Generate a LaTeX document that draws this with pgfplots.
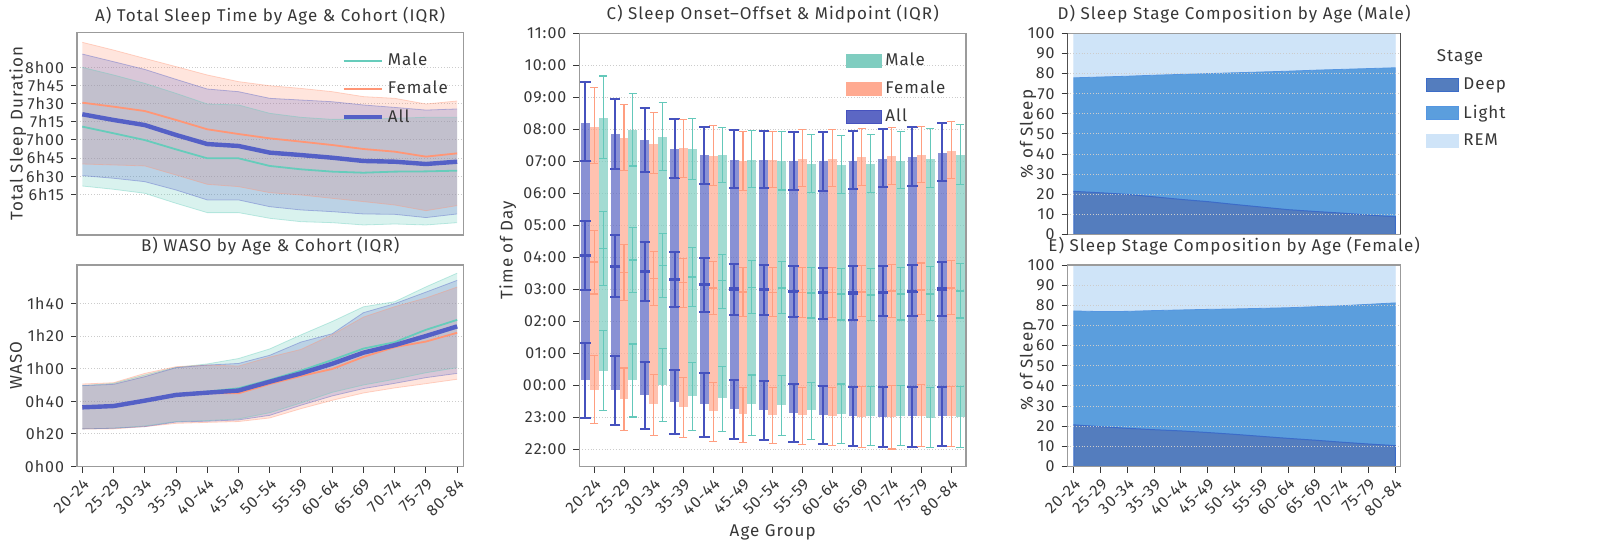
\documentclass[border=0pt]{standalone}
\usepackage{fontspec}
\setmainfont{Fira Sans}[LetterSpace=6]
\usepackage{pgfplots}
\pgfplotsset{compat=1.18}
\usepackage{pgfplotstable}
\usepgfplotslibrary{fillbetween}

\definecolor{malec}{RGB}{102,204,187}
\definecolor{femc}{RGB}{255,150,118}
\definecolor{allc}{RGB}{84,96,198}
\definecolor{maleb}{RGB}{127,205,192}
\definecolor{femb}{RGB}{255,170,145}
\definecolor{allb}{RGB}{92,103,196}
\definecolor{allerr}{RGB}{70,82,190}
\definecolor{femerr}{RGB}{255,158,128}
\definecolor{maleerr}{RGB}{100,200,186}
\definecolor{deepc}{RGB}{84,125,190}
\definecolor{deepe}{RGB}{60,108,200}
\definecolor{lightc}{RGB}{91,158,221}
\definecolor{lighte}{RGB}{85,150,225}
\definecolor{remc}{RGB}{207,228,248}
\definecolor{txtc}{RGB}{55,55,55}
\definecolor{framec}{RGB}{155,155,155}
\definecolor{spinec}{RGB}{80,80,80}

\newcommand{\fs}{\fontsize{8.5}{10.2}\selectfont}
\newcommand{\fst}{\fontsize{8}{9.6}\selectfont}

% A) total sleep time, minutes: lo / median / hi per cohort
\pgfplotstableread{
x  mlo    mmed   mhi    flo    fmed   fhi    alo    amed   ahi
0  381.9  431.0  480.0  400.1  450.8  500.7  390.5  441.2  491.0
1  379.2  425.5  473.7  399.3  447.5  494.3  388.3  436.5  484.7
2  375.9  419.9  466.8  398.5  443.9  487.4  385.5  432.3  478.3
3  367.6  412.2  458.5  391.0  436.5  480.6  378.6  424.1  470.1
4  359.9  404.8  449.7  383.3  428.8  473.7  370.4  416.6  462.1
5  359.9  404.8  448.9  381.4  424.9  468.2  370.4  415.0  459.9
6  355.2  398.5  442.0  376.4  421.3  464.8  364.8  409.5  454.4
7  352.4  395.7  438.7  374.5  418.6  462.6  362.1  407.5  453.0
8  351.6  393.8  437.0  371.7  415.8  459.9  360.7  405.3  451.6
9  349.7  392.9  437.0  369.0  412.5  455.8  358.8  402.6  448.9
10 350.5  393.8  437.9  366.2  410.3  454.4  358.5  402.0  446.9
11 349.7  394.0  438.7  361.5  406.2  449.7  355.8  400.1  444.7
12 351.6  394.6  438.7  365.7  408.9  452.2  358.8  402.0  445.6
}\tst

% B) WASO, minutes
\pgfplotstableread{
x  mlo   mmed  mhi    flo   fmed  fhi    alo   amed  ahi
0  23.1  36.3  49.6   23.1  36.3  50.6   23.1  36.3  49.6
1  23.5  37.3  51.0   23.1  37.1  51.4   23.5  37.1  50.4
2  24.9  40.4  56.1   24.5  40.4  57.1   24.5  40.4  55.1
3  27.6  44.3  60.8   26.5  43.9  61.2   27.3  43.9  60.6
4  28.2  45.9  62.9   27.1  44.9  62.2   27.8  45.3  62.2
5  29.2  48.0  66.2   27.6  44.9  61.6   28.6  46.6  63.2
6  33.0  53.1  72.1   29.8  50.6  67.1   31.4  52.0  68.2
7  39.0  58.8  80.7   35.5  55.5  71.8   37.6  57.1  76.3
8  45.5  65.3  88.9   40.6  59.8  80.8   43.3  63.0  81.4
9  50.0  72.3  97.9   45.1  67.2  91.6   47.8  69.8  94.3
10 53.5  76.2  101.0  48.2  73.2  98.0   51.0  74.4  99.8
11 57.5  83.8  110.1  50.8  76.6  103.3  54.5  80.0  106.9
12 60.6  89.9  118.5  53.5  82.0  110.0  57.1  85.9  114.1
}\wst

% C) onset / offset / midpoint, hours after midnight (negative = evening)
\pgfplotstableread{
x  on     onlo   onhi   off   offlo  offhi  mid   midlo  midhi
0  0.19   -1.00  1.33   8.21  7.00   9.48   4.06  2.99   5.15
1  -0.14  -1.22  0.94   7.85  6.78   8.96   3.73  2.76   4.69
2  -0.29  -1.35  0.75   7.68  6.68   8.67   3.57  2.63   4.47
3  -0.50  -1.51  0.49   7.40  6.48   8.32   3.31  2.45   4.16
4  -0.57  -1.59  0.39   7.19  6.30   8.09   3.16  2.29   3.98
5  -0.74  -1.67  0.16   7.04  6.18   7.97   3.02  2.21   3.79
6  -0.76  -1.70  0.15   7.04  6.16   7.94   3.00  2.19   3.78
7  -0.85  -1.77  0.04   7.00  6.11   7.92   2.94  2.13   3.72
8  -0.91  -1.82  -0.02  7.00  6.09   7.92   2.90  2.09   3.68
9  -0.96  -1.90  -0.03  7.03  6.13   7.96   2.89  2.05   3.72
10 -0.97  -1.93  -0.03  7.09  6.20   8.01   2.92  2.17   3.74
11 -0.96  -1.93  -0.03  7.14  6.23   8.07   2.94  2.16   3.77
12 -0.96  -1.90  -0.03  7.28  6.39   8.20   3.02  2.17   3.85
}\call
\pgfplotstableread{
x  on     onlo   onhi   off   offlo  offhi  mid   midlo  midhi
0  -0.13  -1.17  0.94   8.09  6.93   9.30   3.86  2.86   4.84
1  -0.43  -1.40  0.55   7.74  6.73   8.79   3.53  2.65   4.42
2  -0.59  -1.56  0.36   7.55  6.63   8.52   3.35  2.50   4.18
3  -0.68  -1.61  0.24   7.42  6.51   8.31   3.22  2.44   3.98
4  -0.79  -1.75  0.10   7.17  6.24   8.13   3.04  2.21   3.88
5  -0.89  -1.77  -0.05  7.03  6.10   7.95   2.92  2.16   3.70
6  -0.91  -1.82  -0.05  7.04  6.20   7.95   2.91  2.16   3.68
7  -0.93  -1.85  -0.05  7.08  6.21   7.99   2.91  2.14   3.70
8  -0.96  -1.88  -0.07  7.08  6.21   8.00   2.91  2.14   3.70
9  -0.99  -1.93  -0.03  7.13  6.25   8.04   2.92  2.16   3.76
10 -0.99  -1.98  0.00   7.17  6.28   8.07   2.95  2.14   3.77
11 -0.94  -1.91  0.03   7.21  6.35   8.10   2.99  2.21   3.83
12 -0.94  -1.91  -0.03  7.34  6.46   8.25   3.05  2.21   3.91
}\cfem
\pgfplotstableread{
x  on     onlo   onhi   off   offlo  offhi  mid   midlo  midhi
0  0.47   -0.77  1.71   8.36  7.08   9.67   4.28  3.14   5.43
1  0.17   -0.98  1.30   7.99  6.86   9.11   3.93  2.90   4.95
2  0.02   -1.11  1.15   7.76  6.72   8.85   3.75  2.76   4.74
3  -0.32  -1.39  0.73   7.40  6.43   8.35   3.39  2.48   4.30
4  -0.40  -1.43  0.60   7.21  6.34   8.07   3.28  2.41   4.10
5  -0.59  -1.57  0.33   7.04  6.20   7.97   3.07  2.24   3.91
6  -0.60  -1.55  0.32   7.02  6.11   7.93   3.04  2.24   3.88
7  -0.76  -1.67  0.10   6.93  6.03   7.83   2.90  2.11   3.70
8  -0.89  -1.80  0.05   6.90  6.00   7.82   2.86  2.05   3.67
9  -0.94  -1.86  -0.03  6.93  6.02   7.85   2.83  2.02   3.65
10 -0.96  -1.88  0.00   7.03  6.15   7.94   2.86  2.05   3.70
11 -1.01  -1.93  -0.07  7.08  6.18   8.02   2.86  2.03   3.72
12 -0.99  -1.93  -0.03  7.21  6.27   8.15   2.95  2.11   3.80
}\cmale

% D/E) stage shares, percent
\pgfplotstableread{
x  deep  light  rem
0  21.4  56.5   22.1
1  20.7  57.6   21.7
2  19.9  58.8   21.3
3  18.7  60.5   20.8
4  17.4  62.2   20.4
5  16.3  63.7   20.0
6  14.9  65.5   19.6
7  13.6  67.2   19.2
8  12.3  68.9   18.8
9  11.4  70.3   18.3
10 10.6  71.5   17.9
11 9.6   72.9   17.5
12 8.8   74.1   17.1
}\dm
\pgfplotstableread{
x  deep  light  rem
0  20.7  56.5   22.8
1  19.8  57.1   23.1
2  19.0  58.0   23.0
3  18.3  59.1   22.6
4  17.7  60.0   22.3
5  16.9  61.1   22.0
6  16.0  62.2   21.8
7  15.0  63.5   21.5
8  14.0  64.8   21.2
9  13.1  66.2   20.7
10 12.1  67.7   20.2
11 11.2  69.3   19.5
12 10.4  70.8   18.8
}\df

\pgfplotsset{
  panel/.style={scale only axis, anchor=south west,
    axis line style={framec, line width=0.7pt},
    tick align=outside, tick pos=left, major tick length=3pt,
    tick style={txtc, line width=0.5pt},
    ymajorgrids, grid style={densely dotted, black!20, line width=0.5pt},
    /pgf/number format/assume math mode=true,
    tick label style={font=\fst, text=txtc},
    label style={font=\fs, text=txtc},
    title style={font=\fs, text=txtc, anchor=center},
    legend style={font=\fs, text=txtc, draw=none, fill=none, row sep=2.2pt},
    legend cell align=left},
  agex/.style={xtick={0,...,12},
    xticklabels={20-24,25-29,30-34,35-39,40-44,45-49,50-54,55-59,60-64,65-69,70-74,75-79,80-84},
    xticklabel style={rotate=45, anchor=north east, inner sep=1.5pt}},
  band/.style={draw=#1, draw opacity=0.4, line width=0.4pt, forget plot},
  cbar/.style={draw=none, mark=none, forget plot,
    error bars/y dir=both, error bars/y explicit, error bars/error mark=none,
    error bars/error bar style={draw=#1, line width=4.46pt, opacity=0.72}},
  cerr/.style n args={3}{draw=none, mark=none, forget plot,
    error bars/y dir=both, error bars/y explicit,
    error bars/error bar style={draw=#1, line width=#2},
    error bars/error mark options={rotate=90, draw=#1, line width=#2, mark size=#3}},
  cmid/.style n args={3}{only marks, mark=-, forget plot, mark size=#3,
    mark options={draw=#1, line width=#2}},
}

\begin{document}
\begin{tikzpicture}

% ---------- A
\begin{axis}[panel, at={(38.5pt,156.5pt)}, width=193.2pt, height=101.3pt,
  xmin=-0.17, xmax=12.2, ymin=341.4, ymax=508.9, xtick=\empty,
  ytick={375,390,...,480}, yticklabels={6h15,6h30,6h45,7h00,7h15,7h30,7h45,8h00},
  title={A) Total Sleep Time by Age \& Cohort (IQR)}, title style={yshift=2pt},
  ylabel={Total Sleep Duration}, ylabel style={at={(axis description cs:-0.153,0.5)}, anchor=center},
  legend style={at={(axis description cs:0.668,0.94)}, anchor=north west},
  legend image code/.code={\draw[#1] (0pt,0pt) -- (19pt,0pt);}]
  \addplot[band=malec, name path=amh] table[x=x,y=mhi]{\tst};
  \addplot[band=malec, name path=aml] table[x=x,y=mlo]{\tst};
  \addplot[fill=malec, fill opacity=0.25, draw=none, forget plot] fill between[of=amh and aml];
  \addplot[band=femc, name path=afh] table[x=x,y=fhi]{\tst};
  \addplot[band=femc, name path=afl] table[x=x,y=flo]{\tst};
  \addplot[fill=femc, fill opacity=0.25, draw=none, forget plot] fill between[of=afh and afl];
  \addplot[band=allc, name path=aah] table[x=x,y=ahi]{\tst};
  \addplot[band=allc, name path=aal] table[x=x,y=alo]{\tst};
  \addplot[fill=allc, fill opacity=0.22, draw=none, forget plot] fill between[of=aah and aal];
  \addplot[malec, line width=0.9pt] table[x=x,y=mmed]{\tst};
  \addlegendentry{Male}
  \addplot[femc, line width=0.9pt] table[x=x,y=fmed]{\tst};
  \addlegendentry{Female}
  \addplot[allc, line width=2.2pt] table[x=x,y=amed]{\tst};
  \addlegendentry{All}
\end{axis}

% ---------- B
\begin{axis}[panel, at={(38.5pt,40.7pt)}, width=193.2pt, height=100.8pt,
  xmin=-0.17, xmax=12.2, ymin=0, ymax=123.5, agex,
  ytick={0,20,...,100}, yticklabels={0h00,0h20,0h40,1h00,1h20,1h40},
  title={B) WASO by Age \& Cohort (IQR)}, title style={yshift=3.2pt},
  ylabel={WASO}, ylabel style={at={(axis description cs:-0.158,0.5)}, anchor=center}]
  \addplot[band=malec, name path=bmh] table[x=x,y=mhi]{\wst};
  \addplot[band=malec, name path=bml] table[x=x,y=mlo]{\wst};
  \addplot[fill=malec, fill opacity=0.25, draw=none, forget plot] fill between[of=bmh and bml];
  \addplot[band=femc, name path=bfh] table[x=x,y=fhi]{\wst};
  \addplot[band=femc, name path=bfl] table[x=x,y=flo]{\wst};
  \addplot[fill=femc, fill opacity=0.25, draw=none, forget plot] fill between[of=bfh and bfl];
  \addplot[band=allc, name path=bah] table[x=x,y=ahi]{\wst};
  \addplot[band=allc, name path=bal] table[x=x,y=alo]{\wst};
  \addplot[fill=allc, fill opacity=0.22, draw=none, forget plot] fill between[of=bah and bal];
  \addplot[malec, line width=0.9pt] table[x=x,y=mmed]{\wst};
  \addplot[femc, line width=0.9pt] table[x=x,y=fmed]{\wst};
  \addplot[allc, line width=2.2pt] table[x=x,y=amed]{\wst};
\end{axis}

% ---------- C
\begin{axis}[panel, at={(289.7pt,40.7pt)}, width=193.3pt, height=216.6pt,
  xmin=-0.5, xmax=12.5, ymin=-2.53, ymax=11, agex,
  ytick={-2,-1,...,11},
  yticklabels={22:00,23:00,00:00,01:00,02:00,03:00,04:00,05:00,06:00,07:00,08:00,09:00,10:00,11:00},
  title={C) Sleep Onset–Offset \& Midpoint (IQR)}, title style={yshift=3.4pt},
  xlabel={Age Group}, xlabel style={at={(axis description cs:0.5,0)}, anchor=center, yshift=-33pt},
  ylabel={Time of Day}, ylabel style={at={(axis description cs:-0.185,0.5)}, anchor=center},
  legend style={at={(axis description cs:0.672,0.975)}, anchor=north west},
  legend image code/.code={\draw[#1] (0pt,-3.2pt) rectangle (17.5pt,3.2pt);}]
  % bars: onset to offset
  \addplot[cbar=allb] table[x expr=\thisrow{x}-0.3, y expr=0.5*(\thisrow{on}+\thisrow{off}), y error expr=0.5*(\thisrow{off}-\thisrow{on})]{\call};
  \addplot[cbar=femb] table[x expr=\thisrow{x}, y expr=0.5*(\thisrow{on}+\thisrow{off}), y error expr=0.5*(\thisrow{off}-\thisrow{on})]{\cfem};
  \addplot[cbar=maleb] table[x expr=\thisrow{x}+0.3, y expr=0.5*(\thisrow{on}+\thisrow{off}), y error expr=0.5*(\thisrow{off}-\thisrow{on})]{\cmale};
  % All
  \addplot[cerr={allerr}{1pt}{2.6pt}] table[x expr=\thisrow{x}-0.3, y=off, y error plus expr=\thisrow{offhi}-\thisrow{off}, y error minus expr=\thisrow{off}-\thisrow{offlo}]{\call};
  \addplot[cerr={allerr}{1pt}{2.6pt}] table[x expr=\thisrow{x}-0.3, y=on, y error plus expr=\thisrow{onhi}-\thisrow{on}, y error minus expr=\thisrow{on}-\thisrow{onlo}]{\call};
  \addplot[cerr={allerr}{1pt}{2.6pt}] table[x expr=\thisrow{x}-0.3, y=mid, y error plus expr=\thisrow{midhi}-\thisrow{mid}, y error minus expr=\thisrow{mid}-\thisrow{midlo}]{\call};
  \addplot[cmid={allerr}{1.6pt}{2.6pt}] table[x expr=\thisrow{x}-0.3, y=mid]{\call};
  % Female
  \addplot[cerr={femerr}{0.55pt}{2pt}] table[x expr=\thisrow{x}, y=off, y error plus expr=\thisrow{offhi}-\thisrow{off}, y error minus expr=\thisrow{off}-\thisrow{offlo}]{\cfem};
  \addplot[cerr={femerr}{0.55pt}{2pt}] table[x expr=\thisrow{x}, y=on, y error plus expr=\thisrow{onhi}-\thisrow{on}, y error minus expr=\thisrow{on}-\thisrow{onlo}]{\cfem};
  \addplot[cerr={femerr}{0.55pt}{2pt}] table[x expr=\thisrow{x}, y=mid, y error plus expr=\thisrow{midhi}-\thisrow{mid}, y error minus expr=\thisrow{mid}-\thisrow{midlo}]{\cfem};
  \addplot[cmid={femerr}{0.8pt}{2pt}] table[x expr=\thisrow{x}, y=mid]{\cfem};
  % Male
  \addplot[cerr={maleerr}{0.55pt}{2pt}] table[x expr=\thisrow{x}+0.3, y=off, y error plus expr=\thisrow{offhi}-\thisrow{off}, y error minus expr=\thisrow{off}-\thisrow{offlo}]{\cmale};
  \addplot[cerr={maleerr}{0.55pt}{2pt}] table[x expr=\thisrow{x}+0.3, y=on, y error plus expr=\thisrow{onhi}-\thisrow{on}, y error minus expr=\thisrow{on}-\thisrow{onlo}]{\cmale};
  \addplot[cerr={maleerr}{0.55pt}{2pt}] table[x expr=\thisrow{x}+0.3, y=mid, y error plus expr=\thisrow{midhi}-\thisrow{mid}, y error minus expr=\thisrow{mid}-\thisrow{midlo}]{\cmale};
  \addplot[cmid={maleerr}{0.8pt}{2pt}] table[x expr=\thisrow{x}+0.3, y=mid]{\cmale};
  \addlegendimage{fill=maleb, draw=maleb}
  \addlegendentry{Male}
  \addlegendimage{fill=femb, draw=femb}
  \addlegendentry{Female}
  \addlegendimage{fill=allb, draw=allerr, line width=0.4pt}
  \addlegendentry{All}
\end{axis}

% ---------- D
\begin{axis}[panel, at={(533.8pt,156.8pt)}, width=166.5pt, height=100.5pt,
  xmin=-0.23, xmax=12.2, ymin=0, ymax=100, xtick=\empty, ytick={0,10,...,100},
  stack plots=y, area style, axis on top,
  separate axis lines, x axis line style={framec}, y axis line style={spinec},
  title={D) Sleep Stage Composition by Age (Male)}, title style={yshift=3.4pt},
  ylabel={\% of Sleep}, ylabel style={at={(axis description cs:-0.119,0.5)}, anchor=center},
  legend style={at={(axis description cs:1.058,0.82)}, anchor=north west},
  legend image code/.code={\draw[#1] (0pt,-3.3pt) rectangle (16pt,3.3pt);}]
  \addplot[fill=deepc, draw=deepe, line width=0.5pt] table[x=x,y=deep]{\dm} \closedcycle;
  \addlegendentry{Deep}
  \addplot[fill=lightc, draw=lighte, line width=0.4pt] table[x=x,y=light]{\dm} \closedcycle;
  \addlegendentry{Light}
  \addplot[fill=remc, draw=remc, line width=0.4pt] table[x=x,y=rem]{\dm} \closedcycle;
  \addlegendentry{REM}
\end{axis}
\node[font=\fs, text=txtc] at (730pt,245.5pt) {Stage};

% ---------- E
\begin{axis}[panel, at={(533.8pt,40.7pt)}, width=166.5pt, height=100.8pt,
  xmin=-0.23, xmax=12.2, ymin=0, ymax=100, agex, ytick={0,10,...,100},
  stack plots=y, area style, axis on top,
  title={E) Sleep Stage Composition by Age (Female)}, title style={yshift=3.2pt},
  ylabel={\% of Sleep}, ylabel style={at={(axis description cs:-0.119,0.5)}, anchor=center}]
  \addplot[fill=deepc, draw=deepe, line width=0.5pt] table[x=x,y=deep]{\df} \closedcycle;
  \addplot[fill=lightc, draw=lighte, line width=0.4pt] table[x=x,y=light]{\df} \closedcycle;
  \addplot[fill=remc, draw=remc, line width=0.4pt] table[x=x,y=rem]{\df} \closedcycle;
\end{axis}

\pgfresetboundingbox
\path[use as bounding box] (0,0) rectangle (800pt,274pt);
\end{tikzpicture}
\end{document}
